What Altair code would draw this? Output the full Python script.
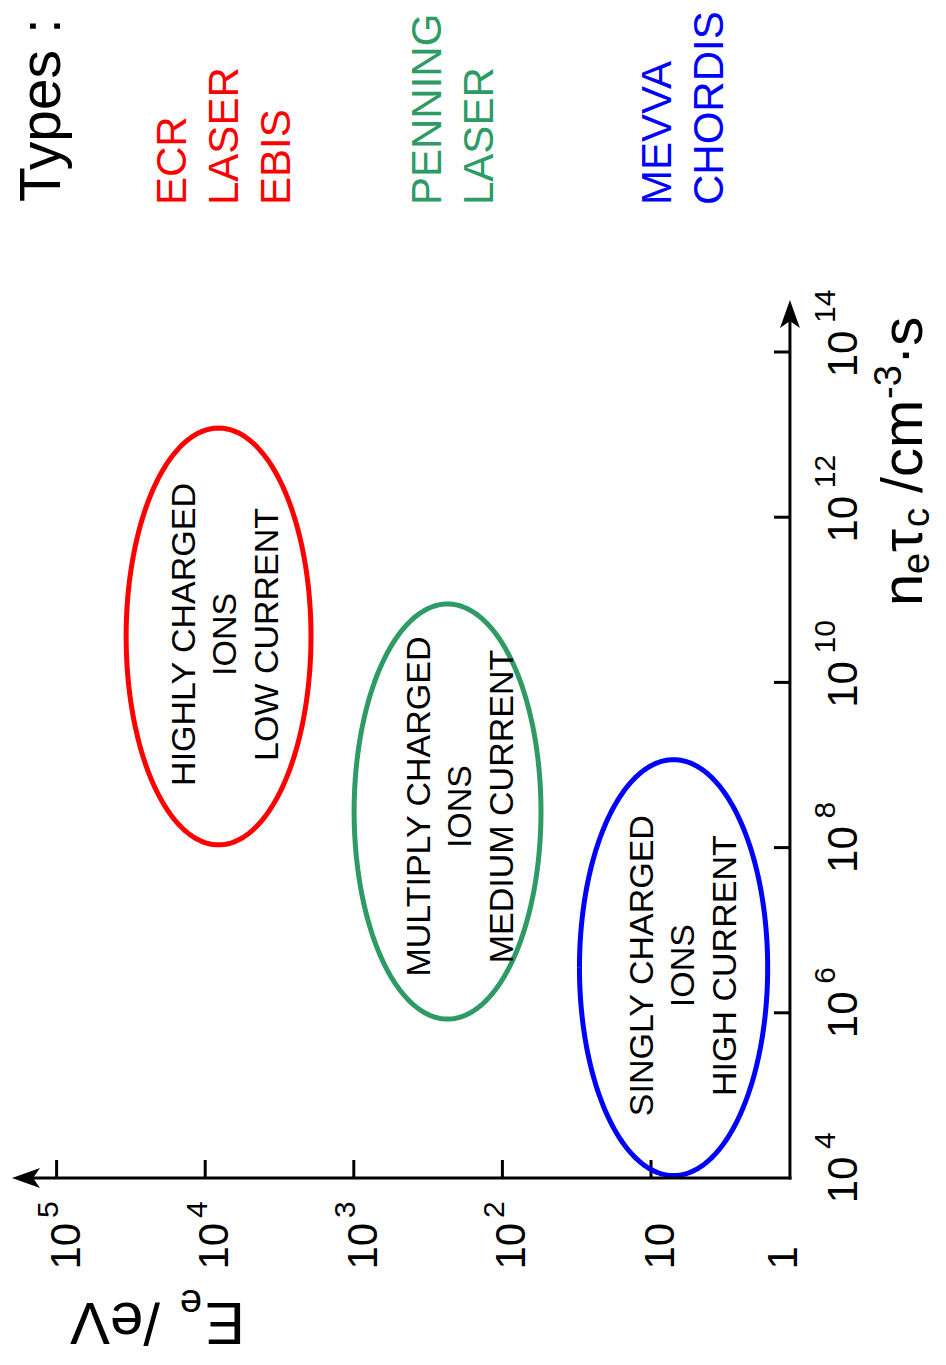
import altair as alt
import numpy as np
import pandas as pd

FONT = "Liberation Sans"

# ---------------- data ----------------
# axis ticks
E_ticks = [10, 100, 1000, 10000, 100000]
E_exps = ["", "2", "3", "4", "5"]
n_ticks = [1e6, 1e8, 1e10, 1e12, 1e14]
n_label_vals = [1e4, 1e6, 1e8, 1e10, 1e12, 1e14]
n_exps = ["4", "6", "8", "10", "12", "14"]

# axis extents (corner and arrow tips)
E_corner = 10 ** 0.065
E_tip = 10 ** 5.30
n_min = 1e4
n_tip = 10 ** 14.63

# ion-source regions (ellipses): bounding ranges in data units
groups = ["high", "multi", "single"]
colors = ["#FF0000", "#2E9A64", "#0000FF"]
E_low = [1941, 55, 1.64]
E_high = [34040, 995, 30.3]
n_low = [1.08e8, 8.4e5, 1.07e4]
n_high = [1.2e13, 8.9e10, 1.16e9]
region_text = ["HIGHLY CHARGED\nIONS\nLOW CURRENT",
               "MULTIPLY CHARGED\nIONS\nMEDIUM CURRENT",
               "SINGLY CHARGED\nIONS\nHIGH CURRENT"]
type_text = ["ECR\nLASER\nEBIS", "PENNING\nLASER", "MEVVA\nCHORDIS"]

# text placement styles (pixel offsets of each text block from its ellipse centre)
region_dx = [-33.7, -27.7, -30.7]
region_dy = [-2, -5, -2]
type_dx = [-46, -20, -16]

# ---------------- tables ----------------
rows = []
for g, e0, e1, m0, m1 in zip(groups, E_low, E_high, n_low, n_high):
    ce, re = (np.log10(e0) + np.log10(e1)) / 2, (np.log10(e1) - np.log10(e0)) / 2
    cn, rn = (np.log10(m0) + np.log10(m1)) / 2, (np.log10(m1) - np.log10(m0)) / 2
    for i, t in enumerate(np.linspace(0, 2 * np.pi, 241)):
        rows.append({"group": g, "i": i,
                     "E": 10 ** (ce + re * np.cos(t)),
                     "n": 10 ** (cn + rn * np.sin(t))})
ell = pd.DataFrame(rows)

centers = pd.DataFrame({
    "group": groups,
    "E": [np.sqrt(a * b) for a, b in zip(E_low, E_high)],
    "n": [np.sqrt(a * b) for a, b in zip(n_low, n_high)],
    "label": region_text,
    "types": type_text,
})

xs = alt.Scale(type="log", domain=[1, 1e5], range=[791.6, 48.6], clamp=False, nice=False)
ys = alt.Scale(type="log", domain=[1e4, 1e14], range=[1170, 344], clamp=False, nice=False)
cs = alt.Scale(domain=groups, range=colors)

X = lambda f="E": alt.X(f"{f}:Q", scale=xs, axis=None)
Y = lambda f="n": alt.Y(f"{f}:Q", scale=ys, axis=None)

# ---------------- axes ----------------
axdf = pd.DataFrame({"E": [E_corner], "E2": [E_tip], "n": [n_min], "n2": [n_tip]})
e_axis = alt.Chart(axdf).mark_rule(strokeWidth=3, color="black", strokeCap="square", x2Offset=14).encode(
    x=X(), x2="E2:Q", y=Y())
n_axis = alt.Chart(axdf).mark_rule(strokeWidth=3, color="black", strokeCap="square", y2Offset=14).encode(
    x=X(), y=Y(), y2="n2:Q")
arrow_left = alt.Chart(pd.DataFrame({"E": [E_tip], "n": [n_min]})).mark_point(
    shape="M0,0 L2,-0.71 L1.5,0 L2,0.71 Z", size=784, filled=True, color="black", opacity=1
).encode(x=X(), y=Y())
arrow_up = alt.Chart(pd.DataFrame({"E": [E_corner], "n": [n_tip]})).mark_point(
    shape="M0,0 L-0.71,2 L0,1.5 L0.71,2 Z", size=784, filled=True, color="black", opacity=1
).encode(x=X(), y=Y())

etk = pd.DataFrame({"E": E_ticks, "n": [n_min] * len(E_ticks), "exp": E_exps})
e_ticks = alt.Chart(etk).mark_tick(orient="vertical", size=18, thickness=3, yOffset=-9, color="black", opacity=1).encode(
    x=X(), y=Y())
e_lab = alt.Chart(etk).mark_text(angle=270, align="left", baseline="alphabetic", fontSize=42, font=FONT,
                                 xOffset=23, color="black").encode(x=X(), y=alt.value(1261.6), text=alt.value("10"))
e_exp = alt.Chart(etk).mark_text(angle=270, align="left", baseline="alphabetic", fontSize=30, font=FONT,
                                 xOffset=1.5, color="black").encode(x=X(), y=alt.value(1210), text="exp:N")
one_lab = alt.Chart(pd.DataFrame({"E": [1]})).mark_text(angle=270, align="left", baseline="alphabetic", fontSize=42,
                                                       font=FONT, xOffset=-2.6, color="black").encode(
    x=X(), y=alt.value(1261.6), text=alt.value("1"))

ntk = pd.DataFrame({"E": [E_corner] * len(n_ticks), "n": n_ticks})
n_ticks_m = alt.Chart(ntk).mark_tick(orient="horizontal", size=16, thickness=3, xOffset=-8, color="black", opacity=1).encode(
    x=X(), y=Y())
nlab = pd.DataFrame({"n": n_label_vals, "exp": n_exps})
n_lab = alt.Chart(nlab).mark_text(angle=270, align="center", baseline="alphabetic", fontSize=42, font=FONT,
                                  yOffset=2, color="black").encode(x=alt.value(849), y=Y(), text=alt.value("10"))
n_exp = alt.Chart(nlab).mark_text(angle=270, align="left", baseline="alphabetic", fontSize=30, font=FONT,
                                  yOffset=-29, color="black").encode(x=alt.value(827), y=Y(), text="exp:N")

# ---------------- axis titles ----------------
one = pd.DataFrame({"a": [0]})
def txt(s, x, y, size, angle):
    return alt.Chart(one).mark_text(angle=angle, align="left", baseline="alphabetic", fontSize=size,
                                    font=FONT, color="black").encode(
        x=alt.value(x), y=alt.value(y), text=alt.value(s))

e_title = [txt("E", 237, 1295, 60, 180), txt("e", 194, 1282, 40, 180), txt("/eV", 152, 1295, 60, 180)]
n_title = [txt("n", 914, 598, 58, 270), txt("e", 921, 566, 38, 270), txt("τ", 914, 544, 58, 270),
           txt("c", 921, 519, 38, 270), txt("/cm", 914, 485, 58, 270), txt("-3", 893, 391, 38, 270),
           txt("·s", 914, 357, 58, 270)]

types_title = txt("Types :", 52, 194, 57, 270)

# ---------------- regions ----------------
ellipses = alt.Chart(ell).mark_line(strokeWidth=5).encode(
    x=X(), y=Y(), color=alt.Color("group:N", scale=cs, legend=None), detail="group:N", order="i:Q")

region_labels = []
type_labels = []
for g, rdx, rdy, tdx in zip(groups, region_dx, region_dy, type_dx):
    base = alt.Chart(centers).transform_filter(alt.datum.group == g)
    region_labels.append(base.mark_text(
        angle=270, align="center", baseline="middle", lineBreak="\n", lineHeight=41.5, fontSize=34,
        font=FONT, color="black", xOffset=rdx, yOffset=rdy).encode(x=X(), y=Y(), text="label:N"))
    type_labels.append(base.mark_text(
        angle=270, align="left", baseline="middle", lineBreak="\n", lineHeight=52, fontSize=42,
        font=FONT, xOffset=tdx).encode(
        x=X(), y=alt.value(197), text="types:N", color=alt.Color("group:N", scale=cs, legend=None)))

chart = alt.layer(
    e_ticks, n_ticks_m, ellipses, e_axis, n_axis, arrow_left, arrow_up,
    e_lab, e_exp, one_lab, n_lab, n_exp, *e_title, *n_title, types_title,
    *region_labels, *type_labels
).properties(
    width=782, height=1170,
    autosize=alt.AutoSizeParams(type="none"),
    padding={"left": 0, "top": 0, "right": 148, "bottom": 179},
    background="white",
).configure_view(stroke=None)

chart.save("out.html", embed_options={"renderer": "svg", "actions": False})
